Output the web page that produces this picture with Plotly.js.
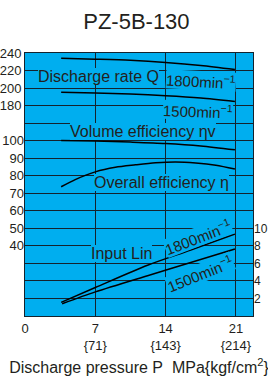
<!DOCTYPE html>
<html><head><meta charset="utf-8">
<script src="https://cdn.plot.ly/plotly-3.0.1.min.js"></script>
<style>html,body{margin:0;padding:0;background:#fff}#chart{width:268px;height:376px}</style>
</head><body><div id="chart"></div>
<script>
// Data
const pressureQ = [3.6, 7, 10.5, 14, 17.5, 20.9];
const flow1800 = [234, 233, 231.7, 229.3, 225.8, 221.1];
const flow1500 = [195.3, 194.4, 193.1, 191.3, 188.7, 184.7];
const pressureVol = [3.6, 7, 10.5, 14, 17.5, 20.9];
const volEff = [100.1, 99.8, 99.2, 98.4, 97.0, 94.8];
const pressureOverall = [3.6, 5, 7, 9, 11, 13, 15, 17, 19, 20.9];
const overallEff = [73.7, 77.8, 82.2, 84.8, 86.2, 87.4, 87.9, 87.3, 86.0, 83.8];
const pressurePower1800 = [3.6, 7, 12.2, 16.5, 20.9];
const power1800 = [1.56, 3.25, 5.79, 7.52, 9.34];
const pressurePower1500 = [3.7, 7, 12.2, 16.5, 20.9];
const power1500 = [1.40, 2.75, 4.60, 6.10, 7.64];

const xTickVals = [0, 7, 14, 21];
const xTickText = ['0', '7<br>{71}', '14<br>{143}', '21<br>{214}'];
const flowTicks = [180, 200, 220, 240];
const effTicks = [40, 50, 60, 70, 80, 90, 100];
const powerTickVals = [0, 2, 4, 6, 8, 10, 12, 14, 16, 18, 20, 22, 24, 26, 28, 30];
const powerTickText = [' ', '2', '4', '6', '8', '10', ' ', ' ', ' ', ' ', ' ', ' ', ' ', ' ', ' ', ' '];

const BLUE = '#00AEEF';
const GRID = '#14232e';
const TXT = '#231f20';
const FONT = 'Liberation Sans, Arial, sans-serif';

function line(x, y, yaxis) {
  return {x: x, y: y, yaxis: yaxis, type: 'scatter', mode: 'lines',
    line: {color: '#000', width: 1.5, shape: 'spline', smoothing: 0.8},
    hoverinfo: 'skip', showlegend: false};
}

const traces = [
  line(pressureQ, flow1800, 'y'),
  line(pressureQ, flow1500, 'y'),
  line(pressureVol, volEff, 'y2'),
  line(pressureOverall, overallEff, 'y2'),
  line(pressurePower1800, power1800, 'y3'),
  line(pressurePower1500, power1500, 'y3')
];

function label(text, x, y, size, opts) {
  return Object.assign({text: text, x: x, y: y, xref: 'x', yref: 'y3',
    showarrow: false, xanchor: 'left', yanchor: 'middle',
    bgcolor: BLUE, borderpad: 0, borderwidth: 0,
    font: {family: FONT, size: size, color: TXT}}, opts || {});
}

const sup = '<sup>\u22121</sup>';
const annotations = [
  label('Discharge rate Q', 1.3, 27.35, 16),
  label('1800min' + sup, 13.96, 26.9, 15, {textangle: 3}),
  label('1500min' + sup, 13.66, 23.45, 15, {textangle: 2}),
  label('Volume efficiency \u03b7v', 4.49, 21.1, 16),
  label('Overall efficiency \u03b7', 6.91, 15.2, 16),
  label('Input Lin', 6.55, 7.1, 16),
  label('1800min' + sup, 17.25, 9.06, 15, {xanchor: 'center', textangle: -21}),
  label('1500min' + sup, 17.4, 4.87, 15, {xanchor: 'center', textangle: -22})
];

const layout = {
  width: 268, height: 376,
  margin: {l: 25, r: 15, t: 53, b: 60},
  paper_bgcolor: '#fff', plot_bgcolor: BLUE,
  font: {family: FONT, color: TXT, size: 13},
  title: {text: 'PZ-5B-130', font: {family: FONT, size: 22, color: TXT},
    xref: 'container', yref: 'container', x: 0.509, y: 0.944, xanchor: 'center', yanchor: 'middle'},
  showlegend: false,
  xaxis: {range: [0, 22.7], tickmode: 'array', tickvals: xTickVals, ticktext: xTickText,
    showgrid: true, gridcolor: GRID, gridwidth: 1, zeroline: false,
    showline: true, linecolor: GRID, linewidth: 1, mirror: true, ticks: '',
    tickfont: {size: 13, color: TXT},
    title: {text: 'Discharge pressure P\u00a0\u00a0MPa{kgf/cm<sup>2</sup>}', font: {size: 16, color: TXT}, standoff: 10}},
  yaxis: {range: [-60, 240], tickmode: 'array', tickvals: flowTicks,
    showgrid: false, zeroline: false, showline: true, linecolor: GRID, linewidth: 1, mirror: true,
    ticks: '', tickfont: {size: 13, color: TXT}},
  yaxis2: {range: [0, 150], overlaying: 'y', side: 'left', anchor: 'x', tickmode: 'array', tickvals: effTicks,
    showgrid: false, zeroline: false, showline: false, ticks: '', tickfont: {size: 13, color: TXT}},
  yaxis3: {range: [0, 30], overlaying: 'y', side: 'right', anchor: 'x', tickmode: 'array',
    tickvals: powerTickVals, ticktext: powerTickText,
    showgrid: true, gridcolor: GRID, gridwidth: 1, zeroline: false, showline: false,
    ticks: '', tickfont: {size: 12, color: TXT}},
  annotations: annotations
};

Plotly.newPlot('chart', traces, layout, {displayModeBar: false, staticPlot: true});
</script></body></html>
